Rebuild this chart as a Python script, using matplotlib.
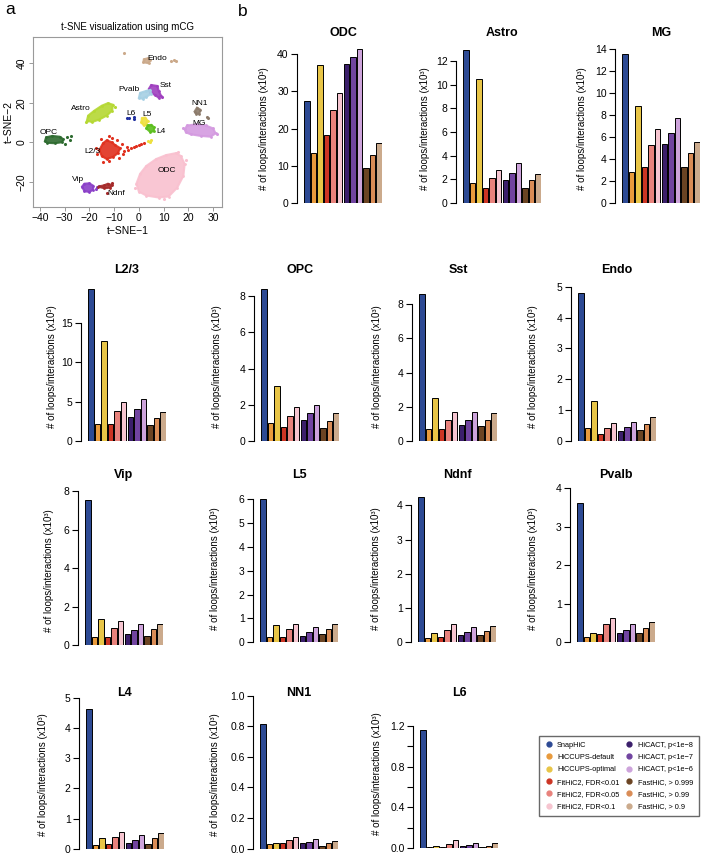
import matplotlib
matplotlib.use("Agg")
import matplotlib.pyplot as plt
from matplotlib.lines import Line2D
import numpy as np

plt.rcParams['font.family'] = ['Liberation Sans', 'DejaVu Sans']

W, H = 707, 855

# methods (legend order) and bar colours
methods = ["SnapHiC", "HiCCUPS-default", "HiCCUPS-optimal",
           "FitHiC2, FDR<0.01", "FitHiC2, FDR<0.05", "FitHiC2, FDR<0.1",
           "HiCACT, p<1e\u22128", "HiCACT, p<1e\u22127", "HiCACT, p<1e\u22126",
           "FastHiC, > 0.999", "FastHiC, > 0.99", "FastHiC, > 0.9"]
method_colors = ["#2d4a94", "#e89a3c", "#e8c547", "#cc3524", "#e8827c", "#f6c5d0",
                 "#3b1f6b", "#7144a0", "#cda3db", "#6b4423", "#d98c56", "#cbaa8c"]

# loops/interactions (x10^3) per cell type, same order as methods
odc = [27.5, 13.5, 37.2, 18.3, 25.0, 29.7, 37.5, 39.3, 41.5, 9.5, 13.0, 16.1]
astro = [12.9, 1.65, 10.5, 1.25, 2.15, 2.8, 1.95, 2.55, 3.35, 1.25, 1.95, 2.45]
mg = [13.6, 2.8, 8.8, 3.3, 5.3, 6.7, 5.35, 6.4, 7.7, 3.3, 4.55, 5.6]
l23 = [19.3, 2.1, 12.7, 2.2, 3.8, 5.0, 3.05, 4.05, 5.3, 2.05, 2.95, 3.7]
opc = [8.4, 1.0, 3.05, 0.78, 1.4, 1.87, 1.15, 1.55, 2.0, 0.73, 1.1, 1.52]
sst = [8.6, 0.7, 2.5, 0.7, 1.23, 1.72, 0.95, 1.23, 1.68, 0.85, 1.23, 1.62]
endo = [4.78, 0.42, 1.28, 0.22, 0.42, 0.57, 0.33, 0.45, 0.6, 0.35, 0.55, 0.77]
vip = [7.53, 0.43, 1.33, 0.4, 0.87, 1.26, 0.57, 0.78, 1.1, 0.48, 0.81, 1.09]
l5 = [6.0, 0.24, 0.71, 0.21, 0.55, 0.77, 0.27, 0.42, 0.66, 0.34, 0.55, 0.77]
ndnf = [4.25, 0.14, 0.26, 0.16, 0.35, 0.53, 0.2, 0.29, 0.46, 0.2, 0.34, 0.47]
pvalb = [3.6, 0.13, 0.23, 0.22, 0.47, 0.64, 0.23, 0.32, 0.48, 0.23, 0.38, 0.52]
l4 = [4.62, 0.13, 0.35, 0.18, 0.4, 0.57, 0.19, 0.31, 0.47, 0.18, 0.35, 0.52]
nn1 = [0.816, 0.03, 0.035, 0.037, 0.056, 0.076, 0.039, 0.043, 0.063, 0.017, 0.035, 0.052]
l6 = [1.16, 0.01, 0.02, 0.013, 0.04, 0.078, 0.023, 0.026, 0.052, 0.01, 0.02, 0.045]

# title, values, tick step, top tick, label every n-th tick
panels = [("ODC", odc, 10, 40, 1), ("Astro", astro, 2, 12, 1), ("MG", mg, 2, 14, 1),
          ("L2/3", l23, 5, 15, 1), ("OPC", opc, 2, 8, 1), ("Sst", sst, 2, 8, 1), ("Endo", endo, 1, 5, 1),
          ("Vip", vip, 2, 8, 1), ("L5", l5, 1, 6, 1), ("Ndnf", ndnf, 1, 4, 1), ("Pvalb", pvalb, 1, 4, 1),
          ("L4", l4, 1, 5, 1), ("NN1", nn1, 0.2, 1.0, 1), ("L6", l6, 0.2, 1.2, 2)]

# layout in pixels: bar left, y-label x, zero line y, top tick y, title y
layout = {"ODC": (304, 264, 203, 54.3, 33), "Astro": (463, 425, 203, 61, 33), "MG": (622, 582, 203, 49.3, 33),
          "L2/3": (88, 52, 441, 322.7, 270), "OPC": (261, 217, 441, 296, 270),
          "Sst": (419, 377, 441, 304.3, 270), "Endo": (578, 533, 441, 286.7, 270),
          "Vip": (85, 49, 645, 491, 475), "L5": (260, 215, 642.3, 499.3, 475),
          "Ndnf": (418, 376, 642.3, 505.3, 475), "Pvalb": (577, 533, 642.3, 488, 475),
          "L4": (86, 43, 849, 697.7, 693), "NN1": (260, 215, 848.5, 695.7, 693),
          "L6": (420, 377, 848, 726, 693)}

# t-SNE clusters: outline polygons and loose points
clusters = {
    "ODC": ("#f9c0cf", [(-1, -21), (0, -25), (3, -27), (8, -28), (12, -27.5), (15.5, -23), (18, -17),
                        (18.5, -11), (17, -7), (15, -5.5), (11, -6.5), (7, -8.5), (3, -12), (0.5, -16)],
            [(19, -9), (-1.5, -23), (10, -28.8), (16, -5)]),
    "Astro": ("#b5d833", [(-21, 11), (-20.5, 13.5), (-18, 16), (-15, 18.5), (-12.5, 19.8), (-10.5, 19),
                          (-10.8, 16), (-13, 13.5), (-16, 11.5), (-19, 10.2)], [(-9.8, 18), (-21.5, 10.5)]),
    "OPC": ("#2e6b30", [(-38, 0.5), (-37.5, 2.5), (-35, 3.2), (-32, 2.8), (-30.5, 1.5), (-31, 0),
                        (-34, -0.5), (-37, -0.3)], [(-29, 2.5), (-28, 1), (-27.5, 3), (-30, -1)]),
    "L2/3": ("#e0301e", [(-16, -4), (-15, -7), (-13, -8.5), (-10.5, -7.5), (-8.5, -5.5), (-7.5, -3),
                         (-9.5, -1.5), (-11, 0), (-13, 1), (-14.5, -0.5)],
             [(-6, -4.5), (-4.5, -4), (-3, -3), (-2, -2.5), (-1, -2), (0, -1.5), (1, -1), (2, -0.5),
              (-5, -2.5), (-17.5, -3), (-12, 3), (-14.5, -10), (-6.5, -6), (-16.8, -6), (-12, -9.5),
              (-9, 1), (-7, -1), (-15.5, 1.5), (-11, 2), (-8, -8)]),
    "MG": ("#d49ae0", [(18.5, 6.5), (19.5, 8.5), (23, 9), (27, 8.5), (30, 7), (31, 4.5), (29, 2.8),
                       (25, 3.2), (21, 4), (19, 5)], [(31.5, 4), (18, 7)]),
    "NN1": ("#8c7b6b", [(22.5, 15.5), (23.5, 17.5), (24.8, 16.5), (24.5, 14.5), (23.2, 14.5)],
            [(28, 12.3), (27.5, 12.8)]),
    "Sst": ("#9f3fbf", [(4, 27), (5, 29), (7.5, 28.5), (8, 26), (9, 23.5), (8, 22.5), (6.5, 24), (4.5, 25)],
            [(9.5, 23)]),
    "Pvalb": ("#a6d0e4", [(0, 22.5), (0.5, 25), (3, 26), (4.5, 26.5), (5, 24.5), (3, 23), (1.5, 22)], []),
    "Endo": ("#cba98a", [(1.8, 40.5), (2, 42), (3.5, 42.5), (4.5, 41.5), (4, 40)],
             [(13, 41), (14, 41.5), (15, 41), (-6, 45)]),
    "L6": ("#2030a0", [], [(-5, 12.2), (-3.8, 12.3), (-2, 12.6), (-1.8, 12.0)]),
    "L5": ("#eee040", [(1, 10), (1.2, 12.2), (2.5, 12.5), (3.5, 11), (3, 9), (2, 8.5)],
           [(4.4, 0.1), (3.8, 0.6), (5, 1)]),
    "L4": ("#5cbf1e", [(3, 7), (3.5, 8.5), (5, 8.8), (6.2, 7.5), (6, 5.5), (4.5, 5.3)], []),
    "Vip": ("#8a3fc8", [(-23, -22.5), (-22, -21), (-20, -20.8), (-18.5, -22), (-18.5, -24), (-20, -25.2),
                        (-22, -24.8)], [(-17, -22.5), (-16, -22), (-17.5, -23.5)]),
    "Ndnf": ("#a52a2a", [(-16.5, -22.5), (-14, -21.8), (-12.5, -21), (-10.8, -21.8), (-11.5, -23), (-14, -23.3)],
             [(-13, -25.5), (-11, -20.5)]),
}
cluster_labels = {"Endo": (7.4, 42.5), "Sst": (11, 28.5), "Pvalb": (-4, 26.8), "Astro": (-23.5, 17.2),
                  "OPC": (-36.3, 5), "L6": (-3, 14.7), "L5": (3.4, 13.8), "L4": (9, 5.4),
                  "NN1": (24.4, 19.7), "MG": (24.3, 9.6), "L2/3": (-18.6, -4.8), "ODC": (11.4, -14.5),
                  "Vip": (-24.4, -18.7), "Ndnf": (-9.3, -25.8)}


def px_rect(x0, y0, x1, y1):
    return [x0 / W, 1 - y1 / H, (x1 - x0) / W, (y1 - y0) / H]


fig = plt.figure(figsize=(W / 100, H / 100), dpi=100)

# ---- panel a: t-SNE map
ax = fig.add_axes(px_rect(33, 37, 222, 207))
for name, (col, poly, pts) in clusters.items():
    if poly:
        p = np.array(poly)
        ax.fill(p[:, 0], p[:, 1], color=col, lw=1.5, ec=col, alpha=0.9)
        ax.scatter(p[:, 0], p[:, 1], s=4, color=col, lw=0)
    if pts:
        q = np.array(pts)
        ax.scatter(q[:, 0], q[:, 1], s=5, color=col, lw=0)
for name, (x, y) in cluster_labels.items():
    ax.text(x, y, name, fontsize=6, ha="center", va="center")
ax.set_xlim(-42.8, 33.6)
ax.set_ylim(-32.8, 53.3)
ax.set_xticks([-40, -30, -20, -10, 0, 10, 20, 30])
ax.set_yticks([-20, 0, 20, 40])
ax.set_yticklabels(["\u221220", "0", "20", "40"], rotation=90, va="center")
ax.set_xticklabels(["\u221240", "\u221230", "\u221220", "\u221210", "0", "10", "20", "30"])
for s in ax.spines.values():
    s.set_color("#9a9a9a")
    s.set_linewidth(0.8)
ax.tick_params(labelsize=7.5, length=3, width=0.7, color="#9a9a9a", pad=1.5)
ax.set_xlabel("t\u2212SNE\u22121", fontsize=7.5, labelpad=2)
ax.set_ylabel("t\u2212SNE\u22122", fontsize=7.5, labelpad=2)
ax.set_title("t-SNE visualization using mCG", fontsize=7, pad=5)

fig.text(5 / W, 1 - 9 / H, "a", fontsize=12.5, va="center", ha="left")
fig.text(238 / W, 1 - 11 / H, "b", fontsize=12.5, va="center", ha="left")

# ---- panel b: bar charts
x = np.arange(len(methods))
for title, vals, step, top, every in panels:
    left, labx, y0, ytick, ytitle = layout[title]
    scale = (y0 - ytick) / top
    ax_top = y0 - 170
    bx = fig.add_axes(px_rect(left, ax_top, left + 78, y0))
    bx.bar(x, vals, width=0.84, color=method_colors, edgecolor="black", linewidth=0.7)
    bx.set_xlim(-0.45, len(methods) - 0.55)
    bx.set_ylim(0, 170 / scale)
    ticks = np.arange(0, top + step / 2, step)
    bx.set_yticks(ticks)
    if step < 1:
        labs = ["%.1f" % t for t in ticks]
    else:
        labs = ["%d" % t for t in ticks]
    labs = [l if i % every == 0 else "" for i, l in enumerate(labs)]
    bx.set_yticklabels(labs)
    bx.set_xticks([])
    for s in ["top", "right", "bottom"]:
        bx.spines[s].set_visible(False)
    bx.spines["left"].set_position(("outward", 5))
    bx.spines["left"].set_bounds(0, top)
    bx.spines["left"].set_linewidth(0.8)
    bx.tick_params(axis="y", labelsize=7.5, length=4, width=0.8, pad=2)
    bx.patch.set_alpha(0)
    fig.text((left + 39) / W, 1 - ytitle / H, title, fontsize=9, fontweight="bold",
             ha="center", va="center")
    fig.text(labx / W, 1 - (y0 - 74) / H, "# of loops/interactions (x10\u00b3)", fontsize=7,
             rotation=90, ha="center", va="center")

# legend
handles = [Line2D([], [], ls="", marker="o", ms=3.5, color=c) for c in method_colors]
fig.legend(handles, methods, ncol=2, loc="upper left", bbox_to_anchor=(535 / W, 1 - 732 / H),
           frameon=True, fancybox=False, edgecolor="#444444", fontsize=5.3, handlelength=1.1,
           handletextpad=0.6, columnspacing=0.8, labelspacing=0.7, borderpad=0.8)

fig.savefig("out.png", dpi=100)
